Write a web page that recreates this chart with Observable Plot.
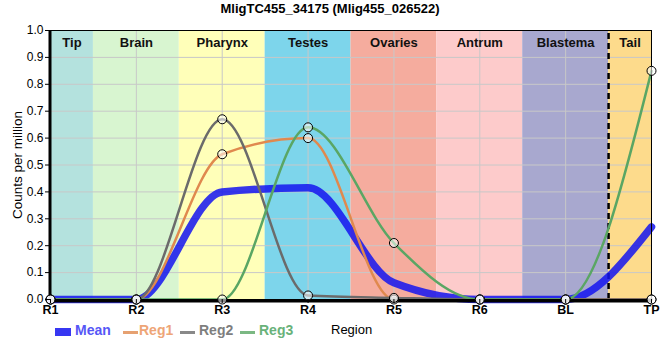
<!DOCTYPE html>
<html>
<head>
<meta charset="utf-8">
<script src="https://cdn.jsdelivr.net/npm/d3@7"></script>
<script src="https://cdn.jsdelivr.net/npm/@observablehq/plot@0.6"></script>
<style>
  body { margin: 0; background: #fff; font-family: "Liberation Sans", Arial, sans-serif; }
  #wrap { position: relative; width: 660px; height: 360px; }
  #title { height: 22px; line-height: 18px; text-align: center; font-weight: bold; font-size: 13px; color: #000; }
  #legend { position: absolute; left: 0; top: 320px; width: 660px; height: 24px; }
  .sw { position: absolute; top: 11px; }
  .lt { position: absolute; top: 2px; font-size: 14px; font-weight: bold; }
</style>
</head>
<body>
<div id="wrap">
  <div id="title">MligTC455_34175 (Mlig455_026522)</div>
  <div id="chart"></div>
  <div id="legend"></div>
</div>
<script>
const categories = ["R1", "R2", "R3", "R4", "R5", "R6", "BL", "TP"];
const regions = ["Tip", "Brain", "Pharynx", "Testes", "Ovaries", "Antrum", "Blastema", "Tail"];
const regionColors = ["#b4e2de", "#d8f5d0", "#ffffb9", "#7dd5eb", "#f5ac9e", "#fdcbcb", "#a8a8cf", "#fddb8c"];
const meanValues = [0, 0, 0.40, 0.415, 0.062, 0, 0, 0.27];
const reg1Values = [0, 0, 0.54, 0.60, 0, 0, 0, 0];
const reg2Values = [0, 0, 0.67, 0.015, 0.006, 0, 0, 0];
const reg3Values = [0, 0, 0, 0.64, 0.21, 0, 0, 0.85];
const seriesNames = ["Mean", "Reg1", "Reg2", "Reg3"];
const seriesColors = ["#1414f0", "#e0894e", "#6b6b6b", "#5aa664"];
const legendTextColors = ["#5656f6", "#eea577", "#7e7e7e", "#69b27a"];
const yTicks = [0, 0.1, 0.2, 0.3, 0.4, 0.5, 0.6, 0.7, 0.8, 0.9, 1.0];
const yLabel = "Counts per million";
const xLabel = "Region";
const dividerAfter = "BL";

const last = categories.length - 1;
const bands = regions.map((name, i) => ({
  name, color: regionColors[i],
  x1: Math.max(0, i - 0.5), x2: Math.min(last, i + 0.5)
}));
const toRows = (vals, s) => vals.map((v, i) => ({i, value: v, series: s}));
const meanRows = toRows(meanValues, "Mean");
const regRows = [...toRows(reg1Values, "Reg1"), ...toRows(reg2Values, "Reg2"), ...toRows(reg3Values, "Reg3")];
const colorOf = s => seriesColors[seriesNames.indexOf(s)];
const divX = categories.indexOf(dividerAfter) + 0.5;
const yMid = (yTicks[0] + yTicks[yTicks.length - 1]) / 2;

const chart = Plot.plot({
  width: 660, height: 300,
  marginTop: 8, marginBottom: 23, marginLeft: 50, marginRight: 9,
  style: {fontFamily: "'Liberation Sans', Arial, sans-serif", background: "transparent", overflow: "visible"},
  x: {domain: [0, last]},
  y: {domain: [0, 1]},
  marks: [
    Plot.rect(bands, {x1: "x1", x2: "x2", y1: 0, y2: 1, fill: d => d.color}),
    Plot.gridX(d3.range(categories.length), {stroke: "#c8c8c8", strokeOpacity: 1, strokeWidth: 1}),
    Plot.gridY(yTicks, {stroke: "#c8c8c8", strokeOpacity: 1, strokeWidth: 1}),
    Plot.text(bands, {x: d => (d.x1 + d.x2) / 2, y: 1, dy: 12, text: "name", fontWeight: "bold", fontSize: 13, fill: "#111"}),
    Plot.ruleX([divX], {y1: 0, y2: 1, stroke: "#000", strokeWidth: 2.5, strokeDasharray: "6,4"}),
    Plot.line(meanRows, {x: "i", y: "value", stroke: colorOf("Mean"), strokeWidth: 7.5, strokeOpacity: 0.85, curve: "monotone-x"}),
    Plot.line(regRows, {x: "i", y: "value", z: "series", stroke: d => colorOf(d.series), strokeWidth: 2.5, curve: "monotone-x"}),
    Plot.frame({stroke: "#000", strokeWidth: 1}),
    Plot.ruleX([0], {y1: 0, y2: 1, stroke: "#000", strokeWidth: 3, dx: -0.5}),
    Plot.ruleY([0], {x1: 0, x2: last, stroke: "#000", strokeWidth: 3, dy: 1.5}),
    Plot.dot(regRows, {x: "i", y: "value", r: 4.5, stroke: "#000", strokeWidth: 1, fill: "#fff", fillOpacity: 0.55}),
    Plot.axisX(d3.range(categories.length), {tickFormat: i => categories[i], tickSize: 4, tickPadding: 2, fontWeight: "bold", fontSize: 12.5, fill: "#000", stroke: "#000", label: null}),
    Plot.axisY(yTicks, {tickFormat: d3.format(".1f"), tickSize: 5, tickPadding: 2, fontSize: 12, fill: "#000", stroke: "#000", label: null}),
    Plot.text([yLabel], {x: 0, y: yMid, textAnchor: "middle", rotate: -90, dx: -33, text: d => d, fontSize: 13.5, fill: "#000"})
  ]
});
document.getElementById("chart").appendChild(chart);

// legend
const legend = document.getElementById("legend");
const swatchX = [55, 123, 180, 240];
const textX = [75, 139, 199, 259];
seriesNames.forEach((s, k) => {
  const sw = document.createElement("div");
  sw.className = "sw";
  sw.style.left = swatchX[k] + "px";
  sw.style.width = (k === 0 ? 16 : 15) + "px";
  sw.style.height = (k === 0 ? 8 : 3) + "px";
  sw.style.marginTop = (k === 0 ? -3 : 0) + "px";
  sw.style.background = seriesColors[k];
  sw.style.opacity = k === 0 ? 0.85 : 0.8;
  legend.appendChild(sw);
  const t = document.createElement("div");
  t.className = "lt";
  t.style.left = textX[k] + "px";
  t.style.color = legendTextColors[k];
  t.textContent = s;
  legend.appendChild(t);
});
const xl = document.createElement("div");
xl.className = "lt";
xl.style.left = "331px";
xl.style.fontWeight = "normal";
xl.style.fontSize = "13px";
xl.style.color = "#000";
xl.textContent = xLabel;
legend.appendChild(xl);
</script>
</body>
</html>
